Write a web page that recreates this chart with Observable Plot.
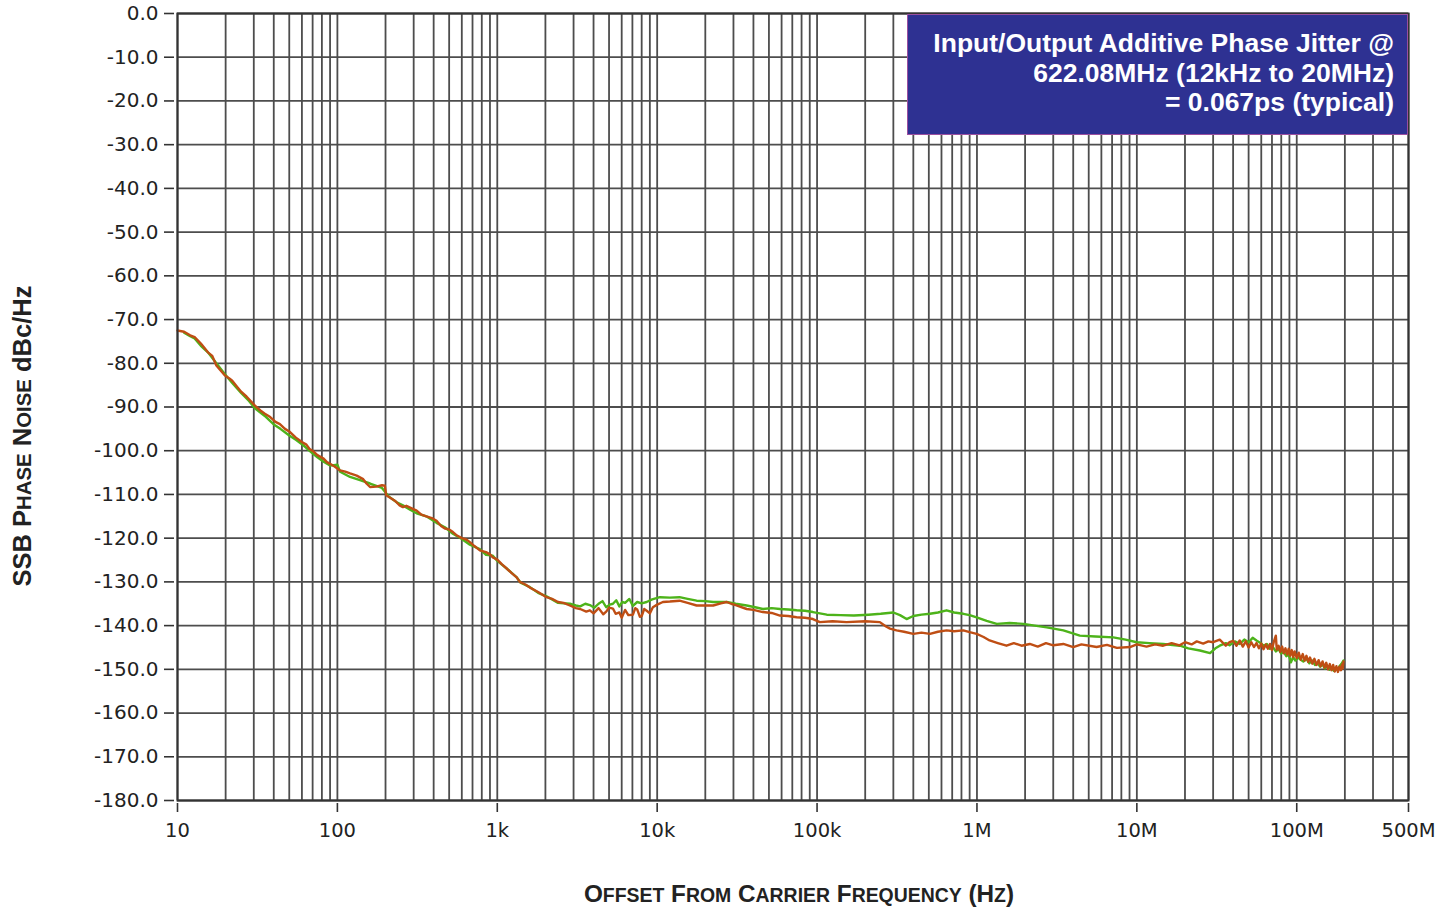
<!DOCTYPE html>
<html>
<head>
<meta charset="utf-8">
<script src="https://cdn.jsdelivr.net/npm/d3@7"></script>
<script src="https://cdn.jsdelivr.net/npm/@observablehq/plot@0.6"></script>
<style>
  html, body { margin: 0; padding: 0; background: #fff; }
  #wrap { position: relative; width: 1449px; height: 909px; overflow: hidden; }
  #box {
    position: absolute; left: 907px; top: 14px; width: 501px; height: 121px;
    box-sizing: border-box; background: #2E3192; border: 1px solid #9B4FA0;
    color: #fff; font-family: "Liberation Sans", Arial, sans-serif; font-weight: bold;
    font-size: 26.5px; line-height: 29.5px; text-align: right; padding: 14px 13px 0 0;
    white-space: nowrap;
  }
</style>
</head>
<body>
<div id="wrap">
  <div id="chart"></div>
  <div id="box">Input/Output Additive Phase Jitter @<br>622.08MHz (12kHz to 20MHz)<br>= 0.067ps (typical)</div>
</div>
<script>
// ---- data ----
const orangeFreq = [10, 11, 12, 12.8, 14, 15.5, 16.5, 17.5, 19.8, 21, 22, 23.5, 25, 27, 30.5, 33, 35, 38, 41, 43.7, 47, 50, 55, 60, 64, 67, 71, 75, 82, 86, 90, 96, 104, 112, 120, 132, 145, 152, 160, 175, 190, 198, 202, 215, 230, 245, 257, 270, 285, 313, 335, 360, 390, 417, 445, 470, 500, 528, 560, 600, 640, 674, 720, 778, 850, 900, 938, 1000, 1070, 1150, 1230, 1318, 1384, 1500, 1600, 1800, 2031, 2200, 2400, 2600, 2844, 3100, 3300, 3600, 3793, 4000, 4300, 4600, 4800, 5000, 5287, 5500, 5800, 6000, 6300, 6600, 7050, 7300, 7500, 7800, 8000, 8300, 8600, 9000, 9400, 10000, 10860, 12000, 13800, 15500, 17650, 20000, 22400, 25000, 27200, 29000, 31000, 36300, 40000, 45800, 52000, 58600, 66000, 74500, 84000, 94200, 104000, 125000, 153000, 200000, 247000, 270000, 286000, 314000, 350000, 400000, 450000, 508000, 570000, 646000, 720000, 822000, 900000, 996000, 1.1e6, 1.2e6, 1.35e6, 1.53e6, 1.7e6, 1.9e6, 2.14e6, 2.4e6, 2.7e6, 3e6, 3.47e6, 4e6, 4.5e6, 5.6e6, 6.5e6, 7.5e6, 9.06e6, 10e6, 11.5e6, 13e6, 14.6e6, 16.5e6, 18.5e6, 20e6, 22e6, 23.7e6, 26e6, 28e6, 30e6, 33e6, 36e6, 38e6, 40e6, 42e6, 44e6, 46e6, 48e6, 50e6, 52e6, 54e6, 56e6, 58e6, 60e6, 62e6, 64e6, 66e6, 68e6, 70e6, 72e6, 74e6, 75e6, 77e6, 79e6, 81e6, 83e6, 85e6, 87e6, 89e6, 91e6, 93e6, 95e6, 97e6, 100e6, 103e6, 106e6, 109e6, 112e6, 115e6, 118e6, 121e6, 125e6, 129e6, 133e6, 137e6, 141e6, 145e6, 149e6, 153e6, 157e6, 161e6, 165e6, 169e6, 173e6, 177e6, 181e6, 185e6, 189e6, 192e6, 194e6, 196e6];
const orangeDb = [-72.5, -72.8, -73.6, -74.0, -75.5, -77.5, -78.3, -80.5, -82.8, -83.4, -84.0, -85.3, -86.5, -87.6, -89.7, -90.8, -91.5, -92.3, -93.4, -93.9, -95.0, -95.6, -97.0, -98.0, -98.6, -99.6, -100.2, -101.0, -101.8, -102.6, -103.0, -103.6, -104.5, -104.8, -105.2, -105.7, -106.5, -107.5, -108.3, -108.2, -107.9, -108.0, -110.2, -110.8, -111.5, -112.5, -112.9, -112.6, -113.0, -113.7, -114.6, -115.0, -115.4, -116.0, -117.2, -117.8, -118.0, -118.6, -119.4, -120.0, -120.3, -120.9, -121.8, -122.8, -123.2, -123.7, -124.4, -124.9, -126.0, -127.0, -128.0, -128.9, -130.0, -130.6, -131.3, -132.3, -133.5, -133.9, -134.6, -134.8, -135.4, -136.0, -136.2, -136.8, -136.5, -137.2, -136.0, -137.4, -136.8, -135.9, -136.1, -137.3, -137.0, -138.2, -136.4, -137.6, -137.5, -136.0, -136.3, -138.0, -137.8, -136.2, -136.6, -137.2, -135.8, -135.2, -134.6, -134.5, -134.3, -134.8, -135.4, -135.4, -135.4, -134.9, -134.6, -135.0, -135.3, -136.2, -136.4, -136.9, -137.1, -137.7, -137.8, -138.1, -138.2, -138.5, -139.2, -139.0, -139.2, -139.0, -139.2, -140.2, -140.7, -141.1, -141.4, -141.9, -141.6, -141.9, -141.4, -141.1, -141.3, -141.1, -141.5, -141.9, -142.6, -143.4, -144.0, -144.6, -144.0, -144.6, -144.2, -144.8, -144.0, -144.5, -144.2, -144.9, -144.3, -144.9, -144.4, -145.1, -144.9, -144.3, -144.8, -144.3, -144.6, -144.0, -144.5, -143.8, -144.3, -143.6, -144.1, -143.6, -143.8, -143.2, -144.6, -143.8, -143.5, -144.6, -143.4, -144.8, -143.6, -145.0, -143.8, -144.9, -144.0, -145.2, -144.1, -145.4, -144.3, -145.3, -144.2, -145.6, -143.6, -142.3, -145.5, -144.6, -146.0, -144.8, -146.3, -145.2, -146.6, -145.3, -146.9, -145.6, -147.2, -145.9, -147.4, -146.2, -147.8, -146.5, -148.0, -146.9, -148.3, -147.3, -148.7, -147.6, -149.0, -147.9, -149.3, -148.2, -149.6, -148.5, -150.0, -148.8, -150.2, -149.0, -150.5, -149.3, -150.6, -149.4, -150.2, -148.9, -149.8, -148.2];

const greenFreq = [11, 12, 12.8, 14, 15.5, 17.5, 19.8, 22, 25, 28, 30.5, 35, 40, 44, 50, 55, 60, 67, 75, 82, 90, 100, 104, 120, 140, 160, 190, 210, 235, 257, 285, 313, 360, 417, 470, 528, 600, 674, 778, 850, 938, 1000, 1150, 1318, 1400, 1600, 1800, 2031, 2400, 2844, 3100, 3300, 3550, 3793, 4050, 4300, 4550, 4800, 5050, 5287, 5550, 5800, 6050, 6300, 6700, 7050, 7500, 8000, 8590, 9300, 10400, 12000, 13800, 15500, 17650, 20000, 22400, 27200, 31000, 36300, 41000, 45800, 52000, 58600, 66000, 74500, 84000, 94200, 115000, 140000, 170000, 210000, 250000, 300000, 330000, 363000, 400000, 450000, 508000, 570000, 646000, 720000, 822000, 900000, 996000, 1.15e6, 1.33e6, 1.6e6, 1.95e6, 2.3e6, 2.73e6, 3.47e6, 4.4e6, 5.5e6, 7.13e6, 8.5e6, 9.98e6, 12e6, 14.6e6, 18.6e6, 21e6, 24.8e6, 28.7e6, 31e6, 33e6, 36e6, 38e6, 41e6, 44e6, 47e6, 50e6, 53e6, 56e6, 59e6, 62e6, 65e6, 68e6, 71e6, 74e6, 77e6, 80e6, 83e6, 86e6, 89e6, 92e6, 95e6, 98e6, 102e6, 106e6, 110e6, 115e6, 120e6, 125e6, 130e6, 135e6, 140e6, 145e6, 150e6, 155e6, 160e6, 165e6, 170e6, 175e6, 180e6, 185e6, 190e6, 196e6];
const greenDb = [-73.0, -73.8, -74.3, -76.0, -77.5, -80.0, -82.5, -84.5, -86.8, -88.6, -90.3, -92.0, -94.0, -95.0, -96.5, -97.5, -98.5, -100.0, -101.5, -102.5, -103.4, -103.2, -104.8, -106.0, -106.8, -107.5, -108.5, -110.5, -111.8, -112.5, -113.5, -114.3, -115.0, -116.5, -117.5, -119.0, -120.2, -121.5, -122.5, -123.8, -124.0, -125.2, -127.0, -128.9, -130.2, -131.2, -132.5, -133.3, -134.8, -135.0, -135.4, -135.6, -135.0, -135.3, -135.9, -135.0, -134.4, -135.8, -135.2, -135.0, -134.2, -135.6, -134.6, -134.8, -133.9, -135.5, -134.6, -134.9, -134.6, -134.0, -133.5, -133.6, -133.5, -133.9, -134.3, -134.4, -134.6, -134.6, -135.0, -135.4, -135.8, -136.2, -136.0, -136.2, -136.3, -136.5, -136.6, -136.9, -137.5, -137.6, -137.7, -137.5, -137.3, -137.0, -137.6, -138.5, -137.8, -137.5, -137.3, -137.0, -136.5, -137.0, -137.3, -137.6, -138.1, -138.9, -139.6, -139.4, -139.6, -140.0, -140.4, -141.1, -142.3, -142.5, -142.7, -143.2, -143.8, -144.0, -144.2, -144.6, -145.2, -145.7, -146.3, -145.2, -144.6, -144.0, -144.5, -143.6, -144.2, -143.2, -143.8, -142.8, -143.4, -143.9, -144.6, -144.2, -145.3, -144.9, -145.9, -145.4, -146.4, -146.0, -147.0, -146.6, -148.4, -147.2, -148.0, -147.3, -147.8, -148.2, -147.6, -148.6, -148.0, -149.0, -148.5, -149.4, -148.9, -149.8, -149.2, -150.1, -149.6, -150.3, -149.7, -150.0, -149.3, -148.8, -148.0];

const xTicks = [10, 100, 1e3, 1e4, 1e5, 1e6, 1e7, 1e8, 5e8];
const xTickLabels = ["10", "100", "1k", "10k", "100k", "1M", "10M", "100M", "500M"];
const yTicks = [0, -10, -20, -30, -40, -50, -60, -70, -80, -90, -100, -110, -120, -130, -140, -150, -160, -170, -180];
const gridDecades = [10, 100, 1e3, 1e4, 1e5, 1e6, 1e7];
const gridMultipliers = [1, 2, 3, 4, 5, 6, 7, 8, 9];
const gridTop = [1e8, 2e8, 3e8, 4e8, 5e8];
const yLabelText = "SSB Phase Noise dBc/Hz";
const xLabelText = "Offset From Carrier Frequency (Hz)";

// ---- build ----
const gridX = gridDecades.flatMap(d => gridMultipliers.map(m => d * m)).concat(gridTop);
const orange = orangeFreq.map((f, i) => ({f, db: orangeDb[i]}));
const green = greenFreq.map((f, i) => ({f, db: greenDb[i]}));
const xLabels = xTicks.map((t, i) => ({t, label: xTickLabels[i]}));

const chart = Plot.plot({
  width: 1449,
  height: 909,
  marginLeft: 177,
  marginRight: 41,
  marginTop: 13,
  marginBottom: 109,
  style: {fontFamily: "DejaVu Sans, sans-serif", background: "#fff", color: "#222", overflow: "visible"},
  x: {type: "log", domain: [10, 5e8]},
  y: {domain: [-180, 0]},
  marks: [
    Plot.ruleX(gridX, {stroke: "#4d4d4d", strokeWidth: 1.8}),
    Plot.ruleY(yTicks, {stroke: "#4d4d4d", strokeWidth: 1.8}),
    Plot.line(green, {x: "f", y: "db", stroke: "#4DB31A", strokeWidth: 2.4}),
    Plot.line(orange, {x: "f", y: "db", stroke: "#BF4E14", strokeWidth: 2.4}),
    Plot.frame({stroke: "#333", strokeWidth: 2}),
    Plot.axisY({ticks: yTicks, tickFormat: d => d.toFixed(1), tickSize: 10, dx: -3, tickPadding: 6, fontSize: 20, label: null, stroke: "#333", strokeWidth: 1.6}),
    Plot.axisX({ticks: xTicks, tickFormat: () => "", tickSize: 9, dy: 3, label: null, stroke: "#333", strokeWidth: 1.6}),
    Plot.text(xLabels, {x: "t", text: "label", frameAnchor: "bottom", dy: 30, fontSize: 19.5, fill: "#222", lineAnchor: "middle"}),
    Plot.text([yLabelText], {frameAnchor: "left", rotate: -90, dx: -155, dy: 29, fontSize: 25.5, fontWeight: "bold", fontFamily: "Liberation Sans, Arial, sans-serif", fill: "#222", textAnchor: "middle", lineAnchor: "middle"}),
    Plot.text([xLabelText], {frameAnchor: "bottom", dx: 6, dy: 101, fontSize: 24.3, fontWeight: "bold", fontFamily: "Liberation Sans, Arial, sans-serif", fill: "#222", textAnchor: "middle", lineAnchor: "bottom"})
  ]
});
document.getElementById("chart").appendChild(chart);

// fake small caps with tspans (keeps the text as real text)
function smallCaps(el, segments) {
  el.textContent = "";
  const ns = "http://www.w3.org/2000/svg";
  for (const [s, sc] of segments) {
    const runs = sc ? s.match(/[a-z]+|[^a-z]+/g) : [s];
    for (const r of runs) {
      const t = document.createElementNS(ns, "tspan");
      if (sc && /^[a-z]+$/.test(r)) {
        t.textContent = r.toUpperCase();
        t.setAttribute("font-size", "80%");
      } else {
        t.textContent = r;
      }
      el.appendChild(t);
    }
  }
}
for (const el of chart.querySelectorAll("text")) {
  if (el.textContent === yLabelText) smallCaps(el, [["SSB Phase Noise", true], [" dBc/Hz", false]]);
  else if (el.textContent === xLabelText) smallCaps(el, [[xLabelText, true]]);
}
</script>
</body>
</html>
